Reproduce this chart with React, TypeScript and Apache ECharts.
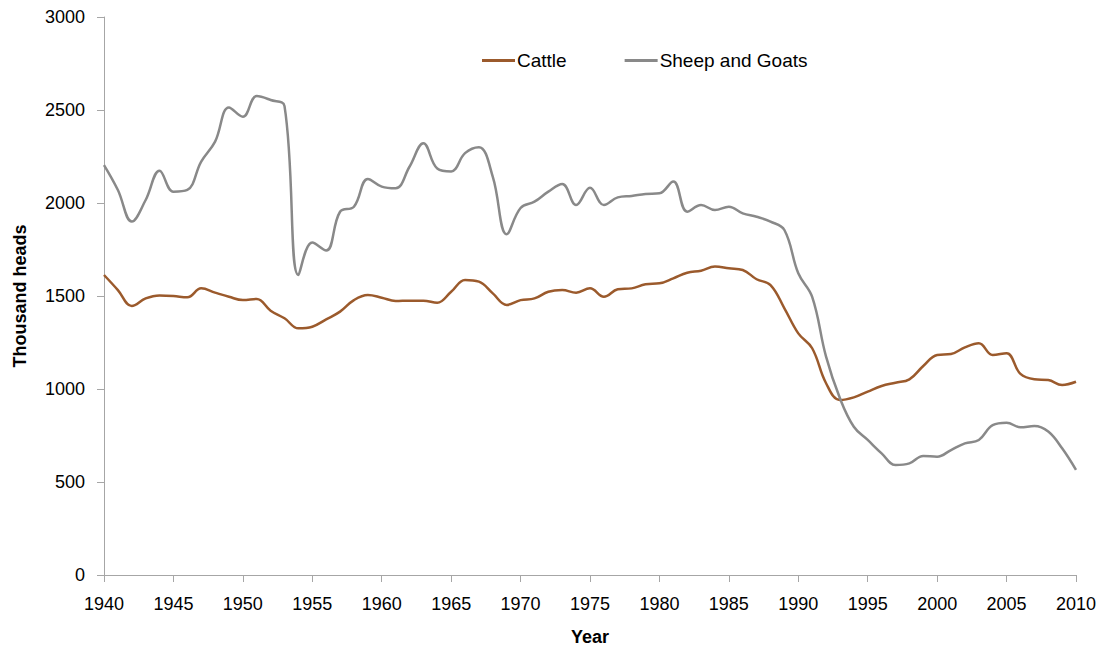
import React, { useEffect, useRef } from "react";
import * as echarts from "echarts";

const years: number[] = [];
for (let y = 1940; y <= 2010; y++) years.push(y);

const cattle = [
  1613, 1532, 1446, 1487, 1503, 1500, 1493, 1541, 1518, 1496,
  1478, 1484, 1421, 1380, 1326, 1335, 1374, 1416, 1478, 1505,
  1491, 1473, 1475, 1475, 1464, 1523, 1586, 1577, 1514, 1452,
  1478, 1487, 1523, 1532, 1518, 1541, 1496, 1536, 1541, 1563,
  1568, 1595, 1625, 1636, 1658, 1649, 1640, 1590, 1559, 1434,
  1299, 1219, 1031, 941, 955, 986, 1016, 1034, 1052, 1124,
  1183, 1188, 1224, 1246, 1183, 1192, 1081, 1052, 1048, 1022,
  1039,
];

const sheepGoats = [
  2204, 2070, 1900, 2016, 2174, 2061, 2070, 2222, 2330, 2514,
  2464, 2575, 2554, 2521, 1613, 1787, 1744, 1953, 1980, 2129,
  2088, 2079, 2195, 2321, 2186, 2170, 2268, 2300, 2141, 1832,
  1973, 2007, 2061, 2102, 1989, 2082, 1989, 2030, 2038, 2048,
  2052, 2115, 1953, 1989, 1962, 1980, 1944, 1926, 1900, 1855,
  1622, 1495, 1174, 950, 797, 726, 654, 591, 600, 640,
  636, 672, 708, 726, 806, 819, 794, 801, 771, 681,
  565,
];

const FONT = "'Liberation Sans', Arial, sans-serif";

export default function App() {
  const ref = useRef<HTMLDivElement>(null);
  useEffect(() => {
    if (!ref.current) return;
    const chart = echarts.init(ref.current, undefined, { renderer: "svg" });
    chart.setOption({
      animation: false,
      textStyle: { fontFamily: FONT },
      grid: { left: 104, right: 29, top: 17, bottom: 75, outerBoundsMode: "none" },
      legend: {
        top: 46,
        left: 477,
        icon: "rect",
        itemWidth: 33,
        itemHeight: 3,
        itemGap: 58,
        textStyle: { fontSize: 19, color: "#000", fontFamily: FONT, padding: [0, 0, 0, -3] },
        data: ["Cattle", "Sheep and Goats"],
      },
      xAxis: {
        type: "value",
        min: 1940,
        max: 2010,
        interval: 5,
        name: "Year",
        nameLocation: "middle",
        nameGap: 53,
        nameTextStyle: { fontSize: 18, fontWeight: "bold", color: "#000" },
        axisLine: { lineStyle: { color: "#A6A6A6", width: 1 } },
        axisTick: { show: true, length: 7, lineStyle: { color: "#A6A6A6" } },
        axisLabel: { fontSize: 18, color: "#000", margin: 20, formatter: (v: number) => String(v) },
        splitLine: { show: false },
      },
      yAxis: {
        type: "value",
        min: 0,
        max: 3000,
        interval: 500,
        name: "Thousand heads",
        nameLocation: "middle",
        nameGap: 75,
        nameTextStyle: { fontSize: 18, fontWeight: "bold", color: "#000" },
        axisLine: { show: true, lineStyle: { color: "#A6A6A6", width: 1 } },
        axisTick: { show: true, length: 7, lineStyle: { color: "#A6A6A6" } },
        axisLabel: { fontSize: 18, color: "#000", margin: 19, formatter: (v: number) => String(v) },
        splitLine: { show: false },
      },
      series: [
        {
          name: "Cattle",
          type: "line",
          smooth: 0.4,
          showSymbol: false,
          data: years.map((y, i) => [y, cattle[i]]),
          lineStyle: { color: "#9B5A2C", width: 2.5 },
          itemStyle: { color: "#9B5A2C" },
        },
        {
          name: "Sheep and Goats",
          type: "line",
          smooth: 0.4,
          showSymbol: false,
          data: years.map((y, i) => [y, sheepGoats[i]]),
          lineStyle: { color: "#898989", width: 2.5 },
          itemStyle: { color: "#898989" },
        },
      ],
    });
    return () => chart.dispose();
  }, []);
  return <div ref={ref} style={{ width: 1105, height: 650, position: "absolute", left: 0, top: 0 }} />;
}
